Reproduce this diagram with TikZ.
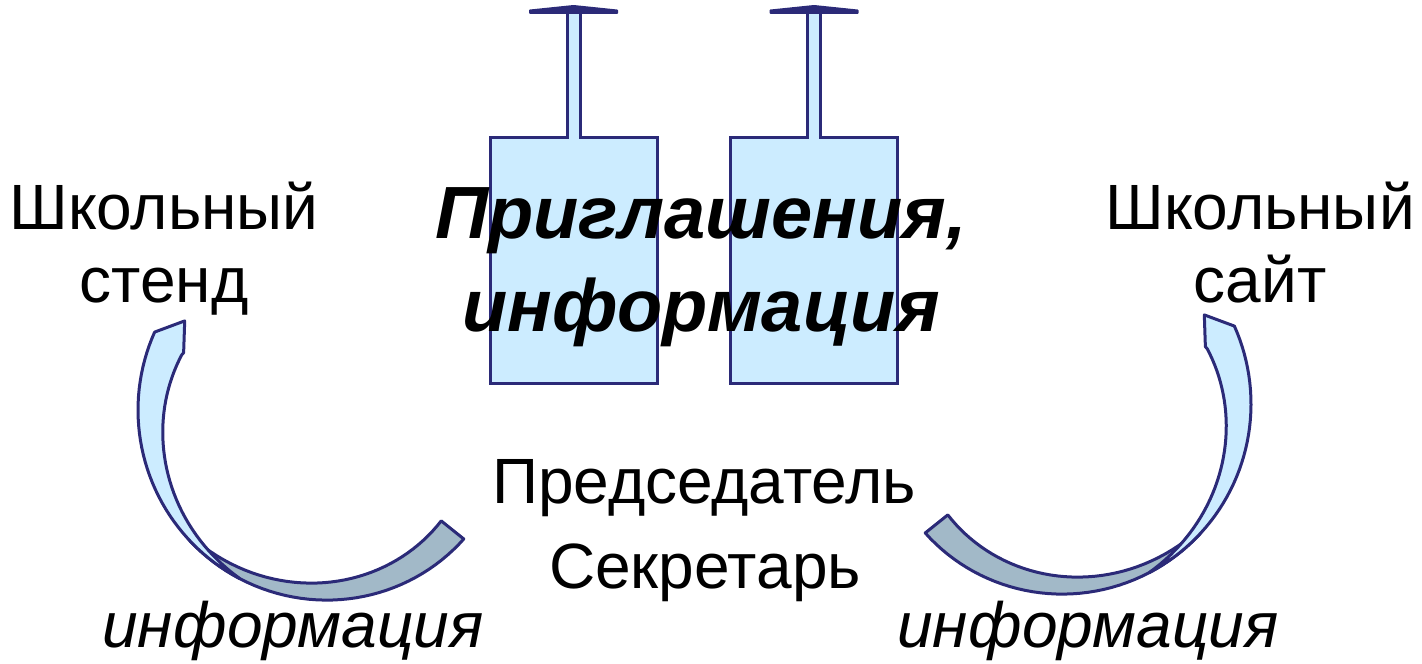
\documentclass[tikz,border=0pt]{standalone}
\usepackage{fontspec}
\setmainfont{Liberation Sans}
\definecolor{navy}{HTML}{2B2A78}
\definecolor{paleblue}{HTML}{CCECFF}
\definecolor{slate}{HTML}{A2B9C8}
\tikzset{
  pin/.style={draw=navy, fill=paleblue, line width=1.5pt},
  pinhead/.style={draw=navy, fill=navy, line width=1pt, line join=round, line cap=round},
  bandfront/.style={draw=navy, fill=paleblue, line width=1.5pt, line join=round},
  bandback/.style={draw=navy, fill=slate, line width=1.5pt, line join=round},
  plain/.style={font=\fontsize{32}{36.5}\selectfont, align=center, inner sep=0pt},
  role/.style={font=\fontsize{32}{38}\selectfont, inner sep=0pt},
  slanted/.style={font=\fontsize{32}{38}\selectfont\itshape, inner sep=0pt},
  headline/.style={font=\fontsize{37}{46.5}\selectfont\bfseries\itshape, align=center, inner sep=0pt}
}
\begin{document}
\begin{tikzpicture}[x=0.5pt, y=-0.5pt]
  \useasboundingbox (0,0) rectangle (1422,663);
  % Define pins
  \foreach \cx in {573.5, 814} {
    \filldraw[pin] (\cx-83.5,383) -- (\cx-83.5,138) -- (\cx-6.5,138) -- (\cx-6.5,11)
      -- (\cx+6.5,11) -- (\cx+6.5,138) -- (\cx+83.5,138) -- (\cx+83.5,383) -- cycle;
    \filldraw[pinhead] (\cx-43.5,10.5) -- (\cx,6) -- (\cx+43.5,10.5) -- (\cx+43.5,13) -- (\cx-43.5,13) -- cycle;
  }
  % Define curved arrows
  \foreach \ox/\oy/\sx in {333/410/1, 1056/404/-1} {
    \begin{scope}[shift={(\ox,\oy)}, xscale=\sx, yscale=-1]
      \filldraw[bandback] plot[domain=222:315.4, samples=40] (\x:{195-(0.02484*(\x-180))^2})
        -- plot[domain=314.3:222, samples=40] (\x:{190-0.38*(\x-222)}) -- cycle;
      \filldraw[bandfront] (149:173) -- (159:160)
        -- plot[domain=160:241, samples=40] (\x:{161+0.39*(\x-160)})
        -- plot[domain=241:156.4, samples=40] (\x:{195-(0.02484*(\x-180))^2}) -- cycle;
    \end{scope}
  }
  % Define labels
  \node[plain, anchor=base] (stand) at (164,302) {Школьный\\стенд};
  \node[plain, anchor=base] (site) at (1260,302) {Школьный\\сайт};
  \node[headline, anchor=base] (invite) at (701,331) {Приглашения,\\информация};
  \node[role, anchor=base] (chair) at (704,503) {Председатель};
  \node[role, anchor=base] (secretary) at (705,588) {Секретарь};
  \node[slanted, anchor=base] (infoL) at (293,647) {информация};
  \node[slanted, anchor=base] (infoR) at (1088,647) {информация};
\end{tikzpicture}
\end{document}
